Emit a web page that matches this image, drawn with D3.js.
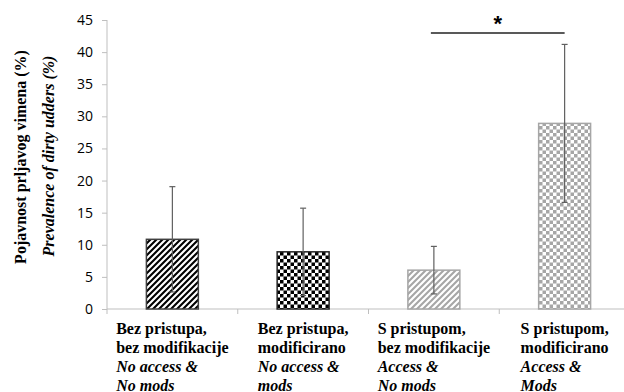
<!DOCTYPE html>
<html><head><meta charset="utf-8">
<script src="https://cdn.jsdelivr.net/npm/d3@7"></script>
<style>body{margin:0;background:#fff}svg{display:block}
.serif{font-family:"Liberation Serif","Times New Roman","DejaVu Serif",serif;}
</style>
</head><body>
<svg id="c" width="624" height="392"></svg>
<script>
const categories = ["c1","c2","c3","c4"];
const labelsHr1 = ["Bez pristupa,","Bez pristupa,","S pristupom,","S pristupom,"];
const labelsHr2 = ["bez modifikacije","modificirano","bez modifikacije","modificirano"];
const labelsEn1 = ["No access &","No access &","Access &","Access &"];
const labelsEn2 = ["No mods","mods","No mods","Mods"];
const values = [10.85, 8.9, 6.05, 28.9];
const errors = [8.2, 6.8, 3.7, 12.3];
const yTicks = [0,5,10,15,20,25,30,35,40,45];
const patterns = ["stripeBlack","checkBlack","stripeGray","checkGray"];
const borders = ["#404040","#262626","#a6a6a6","#a6a6a6"];
const sigPair = [2,3];

const svg = d3.select("#c");
const defs = svg.append("defs");
function stripe(id, col){
  const p = defs.append("pattern").attr("id",id).attr("patternUnits","userSpaceOnUse")
    .attr("width",6).attr("height",6);
  p.append("rect").attr("width",6).attr("height",6).attr("fill","#fff");
  p.append("path").attr("d","M-1,7 L7,-1 M-4,4 L4,-4 M2,10 L10,2").attr("stroke",col).attr("stroke-width",2.1);
}
function check(id, col){
  const s = 3.5;
  const p = defs.append("pattern").attr("id",id).attr("patternUnits","userSpaceOnUse")
    .attr("width",2*s).attr("height",2*s);
  p.append("rect").attr("width",2*s).attr("height",2*s).attr("fill","#fff");
  p.append("rect").attr("width",s).attr("height",s).attr("fill",col);
  p.append("rect").attr("x",s).attr("y",s).attr("width",s).attr("height",s).attr("fill",col);
}
stripe("stripeBlack","#000");
check("checkBlack","#000");
stripe("stripeGray","#a6a6a6");
check("checkGray","#a6a6a6");

const x0 = 107, x1 = 630, yTop = 20, yBot = 309;
const x = d3.scaleBand().domain(categories).range([x0,x1]).paddingInner(0.595).paddingOuter(0.2975);
const xb = d3.scaleBand().domain(categories).range([x0,x1]);
const y = d3.scaleLinear().domain([0,45]).range([yBot,yTop]);

// y axis
const yAxis = svg.append("g").attr("transform",`translate(${x0},0)`)
  .call(d3.axisLeft(y).tickValues(yTicks).tickSize(5).tickPadding(9));
yAxis.select(".domain").attr("stroke","#bfbfbf").attr("d",`M0,${yTop}V${yBot}`);
yAxis.selectAll(".tick line").attr("stroke","#bfbfbf");
yAxis.selectAll(".tick text").attr("font-family","'Open Sans'").attr("font-size",14).attr("fill","#000");

// x axis
const xAxisG = svg.append("g").attr("transform",`translate(0,${yBot})`);
xAxisG.append("line").attr("x1",x0).attr("x2",624).attr("stroke","#bfbfbf");
xAxisG.selectAll("line.t").data(categories.concat(["end"])).join("line").attr("class","t")
  .attr("x1",(d,i)=>x0+i*xb.bandwidth()).attr("x2",(d,i)=>x0+i*xb.bandwidth())
  .attr("y1",0).attr("y2",5).attr("stroke","#bfbfbf");

// bars
svg.selectAll("rect.bar").data(values).join("rect").attr("class","bar")
  .attr("x",(d,i)=>x(categories[i])+0.5).attr("width",x.bandwidth()-1)
  .attr("y",d=>y(d)).attr("height",d=>yBot-y(d))
  .attr("fill",(d,i)=>`url(#${patterns[i]})`).attr("stroke",(d,i)=>borders[i]).attr("stroke-width",1.5);

// error bars
const eg = svg.append("g").attr("stroke","#606060").attr("stroke-width",1.2);
values.forEach((v,i)=>{
  const cx = xb(categories[i]) + xb.bandwidth()/2;
  eg.append("line").attr("x1",cx).attr("x2",cx).attr("y1",y(v+errors[i])).attr("y2",y(v-errors[i]));
  eg.append("line").attr("x1",cx-3).attr("x2",cx+3).attr("y1",y(v+errors[i])).attr("y2",y(v+errors[i]));
  eg.append("line").attr("x1",cx-3).attr("x2",cx+3).attr("y1",y(v-errors[i])).attr("y2",y(v-errors[i]));
});

// significance
const sx1 = xb(categories[sigPair[0]]) + xb.bandwidth()/2 - 3;
const sx2 = xb(categories[sigPair[1]]) + xb.bandwidth()/2;
svg.append("line").attr("x1",sx1).attr("x2",sx2).attr("y1",33).attr("y2",33).attr("stroke","#595959").attr("stroke-width",2);
svg.append("text").attr("x",(sx1+sx2)/2).attr("y",31).attr("text-anchor","middle")
  .attr("font-family","'Liberation Sans'").attr("font-weight","bold").attr("font-size",22).text("*");

// category labels
const lg = svg.append("g").attr("class","serif").attr("font-weight","bold").attr("font-size",16).attr("fill","#000");
categories.forEach((c,i)=>{
  const g = lg.append("g");
  const lines = [[labelsHr1[i],false],[labelsHr2[i],false],[labelsEn1[i],true],[labelsEn2[i],true]];
  const ts = lines.map((l,k)=>g.append("text").attr("y",334+k*19).attr("font-style",l[1]?"italic":"normal").text(l[0]));
  const w = d3.max(ts, t=>t.node().getComputedTextLength());
  const cx = xb(c)+xb.bandwidth()/2;
  g.attr("transform",`translate(${cx - w/2},0)`);
});

// y title
svg.append("text").attr("class","serif").attr("transform","translate(26,157) rotate(-90)").attr("text-anchor","middle")
  .attr("font-weight","bold").attr("font-size",16).text("Pojavnost prljavog vimena (%)");
svg.append("text").attr("class","serif").attr("transform","translate(54,156) rotate(-90)").attr("text-anchor","middle")
  .attr("font-weight","bold").attr("font-style","italic").attr("font-size",16).text("Prevalence of dirty udders (%)");
</script>
</body></html>
